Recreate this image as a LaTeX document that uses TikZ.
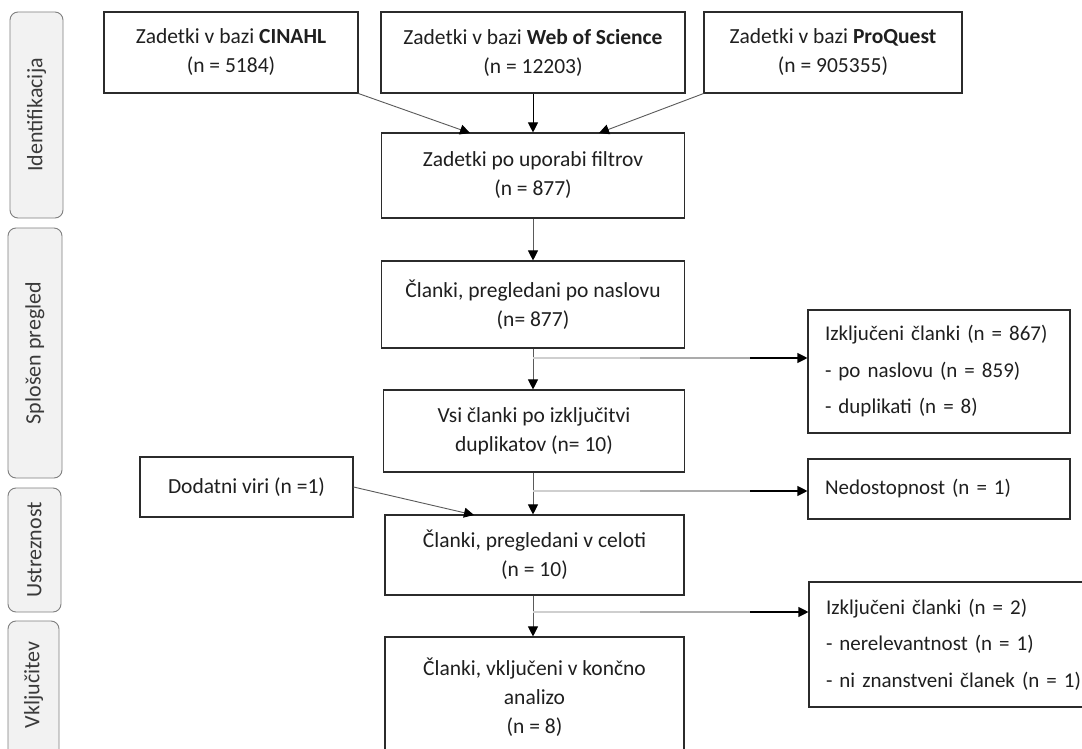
\documentclass[tikz,border=0pt]{standalone}
\usepackage{fontspec}
\setmainfont{Carlito}
\usetikzlibrary{arrows.meta}
\definecolor{txt}{HTML}{1F1F1F}
\definecolor{edge}{HTML}{2B2B2B}
\definecolor{tabfill}{HTML}{F2F2F2}
\definecolor{tabedge}{HTML}{7F7F7F}
\definecolor{tabtxt}{HTML}{3A3A3A}
\definecolor{trunk}{HTML}{5A5A5A}
\definecolor{light}{HTML}{CFCFCF}
\definecolor{mid}{HTML}{ABABAB}
\tikzset{
  mainbox/.style={draw=edge, line width=1.1pt, fill=white, text=txt, align=center, inner sep=0pt,
    font=\fontsize{21.5}{29}\selectfont},
  sidebox/.style={draw=edge, line width=1.1pt, fill=white, text=txt, align=left, inner xsep=17pt, inner ysep=0pt,
    font=\fontsize{21}{36.5}\selectfont},
  tab/.style={draw=tabedge, line width=0.9pt, fill=tabfill, rounded corners=8pt},
  tabtext/.style={text=tabtxt, rotate=90, font=\fontsize{22}{26}\selectfont},
  tip/.style={-{Triangle[length=10pt,width=10pt,color=black]}},
  arr/.style={tip, draw=trunk, line width=0.9pt},
}
\begin{document}
\begin{tikzpicture}[x=1pt,y=-1pt]
\useasboundingbox (0,0) rectangle (1082,749);
\clip (0,0) rectangle (1082,749);
\fill[white] (0,0) rectangle (1082,749);

% side tabs
\draw[tab] (10,12) rectangle (63,218);
\node[tabtext] (t1) at (36.5,115) {Identifikacija};
\draw[tab] (8,228) rectangle (62,478);
\node[tabtext] (t2) at (35,353) {Splošen pregled};
\draw[tab] (8,488) rectangle (61,612);
\node[tabtext] (t3) at (34.5,550) {Ustreznost};
\draw[tab] (8,621) rectangle (59,780);
\node[tabtext] (t4) at (33.5,685) {Vključitev};

% boxes
\node[mainbox, minimum width=254pt, minimum height=81pt] (cin) at (231,52.5)
  {Zadetki v bazi \textbf{CINAHL}\\(n = 5184)};
\node[mainbox, minimum width=304pt, minimum height=81pt] (wos) at (533,52.5)
  {Zadetki v bazi \textbf{Web of Science}\\(n = 12203)};
\node[mainbox, minimum width=258pt, minimum height=81pt] (pq) at (833,52.5)
  {Zadetki v bazi \textbf{ProQuest}\\(n = 905355)};
\node[mainbox, minimum width=303pt, minimum height=85pt] (filt) at (533,175.5)
  {Zadetki po uporabi filtrov\\(n = 877)};
\node[mainbox, minimum width=303pt, minimum height=87pt] (nasl) at (533,304.5)
  {Članki, pregledani po naslovu\\(n= 877)};
\node[mainbox, minimum width=301pt, minimum height=82pt] (vsi) at (534,431)
  {Vsi članki po izključitvi\\duplikatov (n= 10)};
\node[mainbox, minimum width=213pt, minimum height=60pt] (dod) at (246.5,487)
  {Dodatni viri (n =1)};
\node[mainbox, minimum width=299pt, minimum height=80pt] (cel) at (534.5,555)
  {Članki, pregledani v celoti\\(n = 10)};
\node[mainbox, minimum width=299pt, minimum height=120pt] (fin) at (534.5,697)
  {Članki, vključeni v končno\\analizo\\(n = 8)};
\node[sidebox, text width=228pt, minimum height=123pt] (ex1) at (939,371.5)
  {Izključeni članki (n = 867)\\- po naslovu (n = 859)\\- duplikati (n = 8)};
\node[sidebox, text width=228pt, minimum height=60pt] (ned) at (939,489)
  {Nedostopnost (n = 1)};
\node[sidebox, text width=280pt, minimum height=125pt] (ex2) at (966,644.5)
  {Izključeni članki (n = 2)\\- nerelevantnost (n = 1)\\- ni znanstveni članek (n = 1)};

% arrow end points
\coordinate (c1) at (470,133);
\coordinate (c3) at (599,133);
\coordinate (cd) at (474,515);
\coordinate (b1) at (533,358);
\coordinate (b2) at (533,491);
\coordinate (b3) at (533,612);

% connectors
\draw[arr] (cin.south east) -- (c1);
\draw[arr, draw=black] (wos.south) -- (filt.north);
\draw[arr] (pq.south west) -- (c3);
\draw[arr] (filt.south) -- (nasl.north);
\draw[arr] (nasl.south) -- (vsi.north -| nasl.south);
\draw[arr] (vsi.south -| nasl.south) -- (cel.north -| nasl.south);
\draw[arr] (cel.south -| nasl.south) -- (fin.north -| nasl.south);
\draw[arr] (dod.east) -- (cd);

% branches
\foreach \b/\t in {b1/ex1, b2/ned, b3/ex2}{
  \draw[light, line width=1.3pt] (\b) -- (\b -| 640,0);
  \draw[mid, line width=1.3pt] (\b -| 640,0) -- (\b -| 750,0);
  \draw[tip, draw=black, line width=1.1pt] (\b -| 750,0) -- (\b -| \t.west);
}
\end{tikzpicture}
\end{document}
